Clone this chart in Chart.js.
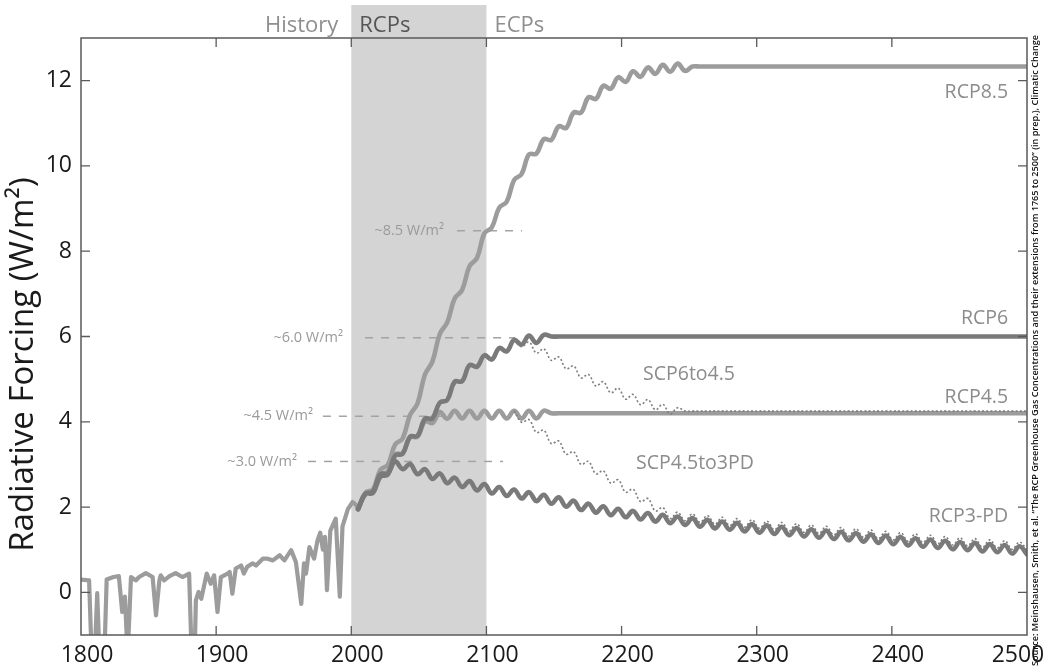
<!DOCTYPE html>
<html><head><meta charset="utf-8">
<script src="https://cdn.jsdelivr.net/npm/chart.js@4.4.0/dist/chart.umd.min.js"></script>
<style>html,body{margin:0;padding:0;background:#fff;}canvas{display:block;}</style>
</head><body>
<canvas id="c" width="1045" height="670"></canvas>
<script>
// ---------- data ----------
const xTicks = [1800, 1900, 2000, 2100, 2200, 2300, 2400, 2500];
const yTicks = [0, 2, 4, 6, 8, 10, 12];
const rcpBand = [2000, 2100];

const histYears = [1800,1806,1808,1810,1812,1814,1817,1819,1824,1828,1830.5,1832.5,1834.5,1837,1840.5,1843,1848,1853,1855.5,1858,1859,1861.5,1865.5,1870,1875,1880,1882,1884,1885,1887,1889,1893,1896,1898.5,1901,1903.5,1908.5,1910,1912,1914.5,1918.5,1920.5,1923,1927,1929.5,1934.5,1938,1942,1947,1950.5,1955.5,1959,1963,1965,1966.5,1969,1972.5,1975,1977,1979,1980.5,1982,1984.5,1988.5,1991.5,1993.5,1997.5,2001,2003.5,2005];
const histValues = [0.30,0.28,-1.6,-1.6,-0.02,-1.8,-1.8,0.30,0.36,0.38,-0.46,-0.10,-1.5,0.36,0.28,0.36,0.45,0.36,-0.54,0.28,0.40,0.28,0.38,0.45,0.36,0.44,-1.6,-1.6,-0.19,0.01,-0.15,0.44,0.20,0.40,-0.46,0.36,0.44,0.48,-0.03,0.56,0.63,0.44,0.60,0.68,0.63,0.79,0.79,0.75,0.87,0.75,0.99,0.71,-0.27,0.68,0.44,1.06,0.79,1.22,1.40,1.00,1.30,0.05,1.45,1.73,-0.10,1.55,1.95,2.12,2.05,1.95];

const projYears = [2005,2010.5,2016,2021.5,2027,2032.5,2038,2043.5,2049,2054.5,
2060,2065.5,2071,2076.5,2082,2087.5,2093,2098.5,2104,2109.5,
2115,2120.5,2126,2131.5,2137,2142.5,2148,2153.5,2159,2164.5,
2170,2175.5,2181,2186.5,2192,2197.5,2203,2208.5,2214,2219.5,
2225,2230.5,2236,2241.5,2247,2252.5,2258,2263.5,2269,2274.5,
2280,2285.5,2291,2296.5,2302,2307.5,2313,2318.5,2324,2329.5,
2335,2340.5,2346,2351.5,2357,2362.5,2368,2373.5,2379,2384.5,
2390,2395.5,2401,2406.5,2412,2417.5,2423,2428.5,2434,2439.5,
2445,2450.5,2456,2461.5,2467,2472.5,2478,2483.5,2489,2494.5,2500];

const rcp85 = [1.95,2.34,2.41,2.87,2.99,3.47,3.61,4.16,4.43,5.11,
5.41,6.06,6.33,6.89,7.09,7.65,7.84,8.42,8.56,9.02,
9.16,9.67,9.81,10.27,10.29,10.63,10.61,10.93,10.89,11.25,
11.25,11.61,11.57,11.88,11.81,12.08,11.97,12.22,12.09,12.31,
12.16,12.37,12.21,12.40,12.23,12.33,12.33,12.33,12.33,12.33,
12.33,12.33,12.33,12.33,12.33,12.33,12.33,12.33,12.33,12.33,
12.33,12.33,12.33,12.33,12.33,12.33,12.33,12.33,12.33,12.33,
12.33,12.33,12.33,12.33,12.33,12.33,12.33,12.33,12.33,12.33,
12.33,12.33,12.33,12.33,12.33,12.33,12.33,12.33,12.33,12.33,12.33];

const rcp6 = [1.95,2.31,2.33,2.71,2.76,3.21,3.25,3.65,3.67,4.07,
4.08,4.45,4.51,4.94,4.95,5.33,5.29,5.56,5.46,5.73,
5.65,5.92,5.81,6.02,5.85,6.04,6.0,6.0,6.0,6.0,
6.0,6.0,6.0,6.0,6.0,6.0,6.0,6.0,6.0,6.0,
6.0,6.0,6.0,6.0,6.0,6.0,6.0,6.0,6.0,6.0,
6.0,6.0,6.0,6.0,6.0,6.0,6.0,6.0,6.0,6.0,
6.0,6.0,6.0,6.0,6.0,6.0,6.0,6.0,6.0,6.0,
6.0,6.0,6.0,6.0,6.0,6.0,6.0,6.0,6.0,6.0,
6.0,6.0,6.0,6.0,6.0,6.0,6.0,6.0,6.0,6.0,6.0];

const rcp45 = [1.95,2.31,2.36,2.77,2.83,3.24,3.26,3.64,3.65,4.01,
3.97,4.23,4.07,4.26,4.08,4.26,4.08,4.26,4.08,4.26,
4.08,4.26,4.08,4.26,4.08,4.26,4.2,4.2,4.2,4.2,
4.2,4.2,4.2,4.2,4.2,4.2,4.2,4.2,4.2,4.2,
4.2,4.2,4.2,4.2,4.2,4.2,4.2,4.2,4.2,4.2,
4.2,4.2,4.2,4.2,4.2,4.2,4.2,4.2,4.2,4.2,
4.2,4.2,4.2,4.2,4.2,4.2,4.2,4.2,4.2,4.2,
4.2,4.2,4.2,4.2,4.2,4.2,4.2,4.2,4.2,4.2,
4.2,4.2,4.2,4.2,4.2,4.2,4.2,4.2,4.2,4.2,4.2];

const rcp3pd = [1.95,2.31,2.36,2.77,2.79,3.07,2.89,3.01,2.77,2.89,
2.66,2.79,2.56,2.69,2.47,2.61,2.39,2.54,2.32,2.47,
2.26,2.41,2.20,2.35,2.14,2.29,2.08,2.23,2.01,2.15,
1.93,2.08,1.87,2.02,1.81,1.96,1.76,1.91,1.71,1.86,
1.66,1.82,1.62,1.78,1.58,1.74,1.54,1.70,1.50,1.66,
1.47,1.63,1.43,1.60,1.40,1.57,1.37,1.54,1.34,1.51,
1.31,1.48,1.28,1.45,1.25,1.42,1.22,1.39,1.19,1.36,
1.16,1.33,1.13,1.30,1.10,1.27,1.07,1.24,1.04,1.21,
1.01,1.18,0.99,1.16,0.96,1.13,0.94,1.11,0.91,1.08,0.89];

const scp6to45 = [null,null,null,null,null,null,null,null,null,null,
null,null,null,null,null,null,null,null,null,null,
null,5.92,5.76,5.87,5.61,5.71,5.44,5.52,5.24,5.31,
5.03,5.11,4.84,4.94,4.68,4.79,4.53,4.64,4.40,4.52,
4.28,4.41,4.18,4.33,4.25,4.25,4.25,4.25,4.25,4.25,
4.25,4.25,4.25,4.25,4.25,4.25,4.25,4.25,4.25,4.25,
4.25,4.25,4.25,4.25,4.25,4.25,4.25,4.25,4.25,4.25,
4.25,4.25,4.25,4.25,4.25,4.25,4.25,4.25,4.25,4.25,
4.25,4.25,4.25,4.25,4.25,4.25,4.25,4.25,4.25,4.25,4.25];

const scp45to3pd = [null,null,null,null,null,null,null,null,null,null,
null,null,null,null,null,null,null,null,null,null,
null,4.26,3.99,4.05,3.75,3.80,3.49,3.55,3.24,3.30,
3.00,3.07,2.78,2.85,2.56,2.64,2.35,2.42,2.13,2.20,
1.91,1.99,1.73,1.88,1.68,1.84,1.64,1.80,1.60,1.76,
1.57,1.73,1.53,1.70,1.50,1.67,1.47,1.64,1.44,1.61,
1.41,1.58,1.38,1.55,1.35,1.52,1.32,1.49,1.29,1.46,
1.26,1.43,1.23,1.40,1.20,1.37,1.17,1.34,1.14,1.31,
1.11,1.28,1.09,1.26,1.06,1.23,1.04,1.21,1.01,1.18,0.99];

// annotation levels (value, dashed span in years, label end year)
const markerText = ['~8.5 W/m\u00B2', '~6.0 W/m\u00B2', '~4.5 W/m\u00B2', '~3.0 W/m\u00B2'];
const markerValue = [8.48, 5.97, 4.13, 3.07];
const markerFrom = [2078.2, 2010.2, 1979, 1968];
const markerTo = [2126.3, 2121.2, 2069.3, 2112.3];
const markerLabelEnd = [2068.6, 1993.9, 1971.7, 1959.8];

// series labels (text, anchor year, anchor value, alignment)
const seriesLabelText = ['RCP8.5', 'RCP6', 'SCP6to4.5', 'RCP4.5', 'SCP4.5to3PD', 'RCP3-PD'];
const seriesLabelYear = [2486, 2486, 2215.9, 2486, 2210.7, 2486];
const seriesLabelValue = [11.73, 6.43, 5.12, 4.58, 3.03, 1.77];
const seriesLabelAlign = ['right', 'right', 'left', 'right', 'left', 'right'];

const sourceText = 'Source: Meinshausen, Smith, et al. \u201CThe RCP Greenhouse Gas Concentrations and their extensions from 1765 to 2500\u201D (in prep.), Climatic Change';

// ---------- chart ----------
const FONT = '"Open Sans", "Noto Sans", sans-serif';
const pts = (xs, ys) => xs.map((x, i) => ({x: x, y: ys[i]}));

function lineDs(label, xs, ys, color, width, opts) {
  return Object.assign({
    label: label, data: pts(xs, ys), borderColor: color, borderWidth: width,
    pointRadius: 0, fill: false, tension: 0.4, clip: 0,
    borderJoinStyle: 'round', borderCapStyle: 'round', spanGaps: false
  }, opts || {});
}

const datasets = [
  lineDs('SCP4.5to3PD', projYears, scp45to3pd, '#7e7e7e', 1.6, {borderDash: [2, 2.2], borderCapStyle: 'butt'}),
  lineDs('SCP6to4.5', projYears, scp6to45, '#7e7e7e', 1.6, {borderDash: [2, 2.2], borderCapStyle: 'butt'}),
  lineDs('RCP3-PD', projYears, rcp3pd, '#7a7a7a', 4.6),
  lineDs('RCP6', projYears, rcp6, '#7a7a7a', 4.6),
  lineDs('RCP4.5', projYears, rcp45, '#9c9c9c', 4.6),
  lineDs('RCP8.5', projYears, rcp85, '#9c9c9c', 4.6),
  lineDs('History', histYears, histValues, '#9c9c9c', 4.2, {tension: 0})
];

const decor = {
  id: 'decor',
  beforeDatasetsDraw(chart) {
    const {ctx, chartArea: a, scales: {x, y}} = chart;
    ctx.save();
    // RCP period band
    const bx0 = x.getPixelForValue(rcpBand[0]), bx1 = x.getPixelForValue(rcpBand[1]);
    ctx.fillStyle = '#d4d4d4';
    ctx.fillRect(bx0, a.top - 33, bx1 - bx0, a.bottom - a.top + 33);
    // era labels
    ctx.font = '22px ' + FONT;
    ctx.textBaseline = 'alphabetic';
    ctx.fillStyle = '#8f8f8f'; ctx.textAlign = 'right';
    ctx.fillText('History', bx0 - 13, a.top - 6);
    ctx.fillStyle = '#555555'; ctx.textAlign = 'left';
    ctx.fillText('RCPs', bx0 + 8, a.top - 6);
    ctx.fillStyle = '#8f8f8f';
    ctx.fillText('ECPs', bx1 + 8, a.top - 6);
    // dashed level markers
    ctx.strokeStyle = '#a3a3a3'; ctx.lineWidth = 1.5; ctx.setLineDash([8, 8]);
    ctx.font = '14.5px ' + FONT; ctx.fillStyle = '#9a9a9a';
    ctx.textAlign = 'right'; ctx.textBaseline = 'middle';
    markerText.forEach((t, i) => {
      const py = y.getPixelForValue(markerValue[i]);
      ctx.beginPath();
      ctx.moveTo(x.getPixelForValue(markerFrom[i]), py);
      ctx.lineTo(x.getPixelForValue(markerTo[i]), py);
      ctx.stroke();
      ctx.fillText(t, x.getPixelForValue(markerLabelEnd[i]), py);
    });
    ctx.restore();
  },
  afterDatasetsDraw(chart) {
    const {ctx, chartArea: a, scales: {x, y}} = chart;
    ctx.save();
    // frame
    ctx.strokeStyle = '#5a5a5a'; ctx.lineWidth = 1.5;
    ctx.strokeRect(a.left, a.top, a.right - a.left, a.bottom - a.top);
    // inward ticks
    ctx.lineWidth = 1.3;
    ctx.beginPath();
    xTicks.forEach(v => {
      const px = x.getPixelForValue(v);
      if (v === xTicks[0] || v === xTicks[xTicks.length - 1]) return;
      ctx.moveTo(px, a.bottom); ctx.lineTo(px, a.bottom - 9);
      ctx.moveTo(px, a.top); ctx.lineTo(px, a.top + 9);
    });
    yTicks.forEach(v => {
      const py = y.getPixelForValue(v);
      ctx.moveTo(a.left, py); ctx.lineTo(a.left + 9, py);
      ctx.moveTo(a.right, py); ctx.lineTo(a.right - 9, py);
    });
    ctx.stroke();
    // series labels
    ctx.font = '19.5px ' + FONT; ctx.fillStyle = '#8c8c8c'; ctx.textBaseline = 'middle';
    seriesLabelText.forEach((t, i) => {
      ctx.textAlign = seriesLabelAlign[i];
      ctx.fillText(t, x.getPixelForValue(seriesLabelYear[i]), y.getPixelForValue(seriesLabelValue[i]));
    });
    // y axis title
    ctx.save();
    ctx.translate(24, (a.top + a.bottom) / 2 + 28);
    ctx.rotate(-Math.PI / 2);
    ctx.font = '33px ' + FONT; ctx.fillStyle = '#1a1a1a';
    ctx.textAlign = 'center'; ctx.textBaseline = 'middle';
    ctx.fillText('Radiative Forcing (W/m\u00B2)', 0, 0);
    ctx.restore();
    // source note
    ctx.save();
    ctx.translate(a.right + 8, (a.top + a.bottom) / 2 + 14);
    ctx.rotate(-Math.PI / 2);
    ctx.font = '600 9px ' + FONT;
    const w = ctx.measureText(sourceText).width;
    const fs = 9 * 632 / w;
    ctx.font = '600 ' + fs.toFixed(2) + 'px ' + FONT;
    ctx.fillStyle = '#111111'; ctx.textAlign = 'center'; ctx.textBaseline = 'middle';
    ctx.fillText(sourceText, 0, 0);
    ctx.restore();
    ctx.restore();
  }
};

new Chart(document.getElementById('c'), {
  type: 'line',
  data: {datasets: datasets},
  options: {
    responsive: false, animation: false, devicePixelRatio: 1,
    layout: {padding: {top: 38, right: 18, left: 0, bottom: 0}},
    plugins: {legend: {display: false}, tooltip: {enabled: false}},
    scales: {
      x: {
        type: 'linear', min: 1800, max: 2500,
        afterFit: s => { s.height = 35; s.paddingLeft = 0; s.paddingRight = 0; },
        afterBuildTicks: s => { s.ticks = xTicks.map(v => ({value: v})); },
        grid: {display: false, drawTicks: false}, border: {display: false},
        ticks: {
          font: {family: FONT, size: 23}, color: '#1a1a1a', padding: 7, labelOffset: 6,
          maxRotation: 0, autoSkip: false,
          callback: v => v === xTicks[xTicks.length - 1] ? v + '\u2007\u2007\u2009' : String(v)
        }
      },
      y: {
        type: 'linear', min: -1, max: 13,
        afterFit: s => { s.width = 81; s.paddingTop = 0; s.paddingBottom = 0; },
        afterBuildTicks: s => { s.ticks = yTicks.map(v => ({value: v})); },
        grid: {display: false, drawTicks: false}, border: {display: false},
        ticks: {font: {family: FONT, size: 23}, color: '#1a1a1a', padding: 9, callback: v => String(v)}
      }
    }
  },
  plugins: [decor]
});
</script>
</body></html>
